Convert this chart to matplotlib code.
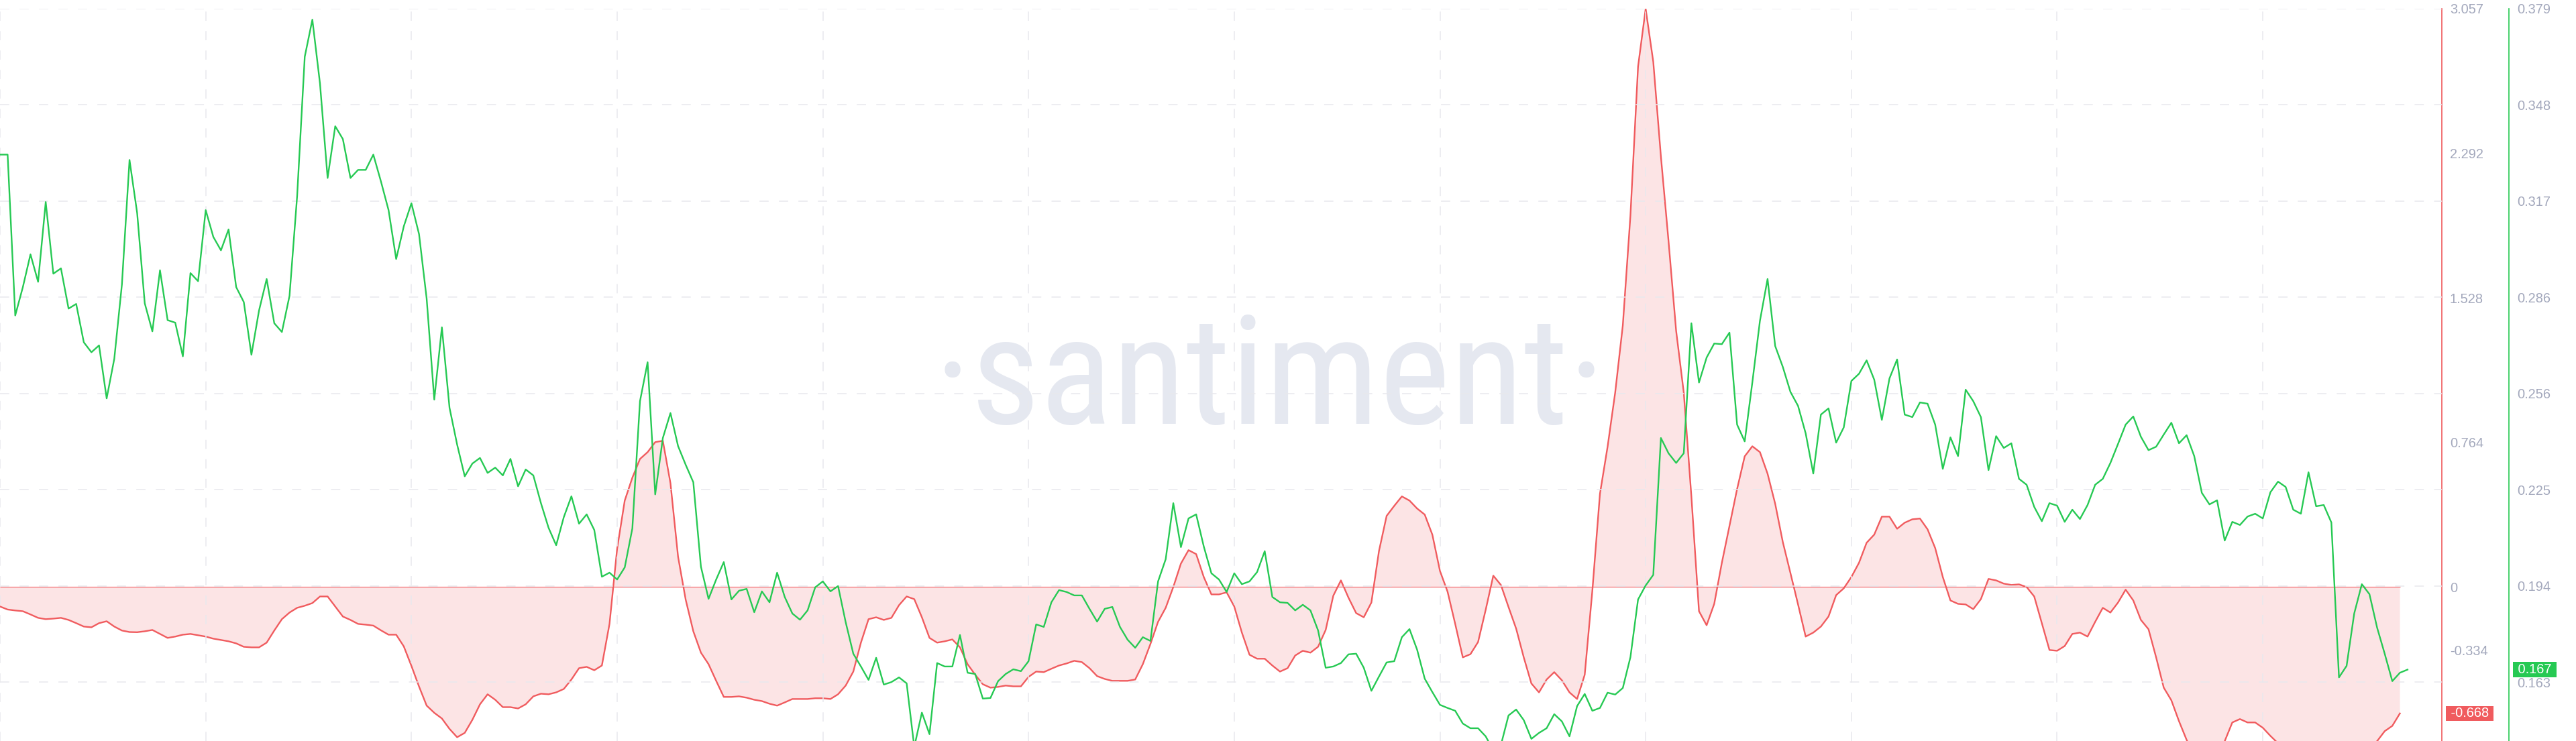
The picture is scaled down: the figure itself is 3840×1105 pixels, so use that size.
import numpy as np
import matplotlib
matplotlib.use("Agg")
import matplotlib.pyplot as plt
from matplotlib import font_manager

# daily values, green = price-like metric (right outer axis), red = smoothed oscillator (inner axis)
GREEN = [
    0.3322, 0.3322, 0.2806, 0.2897, 0.3002, 0.2914, 0.3170, 0.2940, 0.2957, 0.2828,
    0.2843, 0.2720, 0.2688, 0.2710, 0.2540, 0.2667, 0.2905, 0.3305, 0.3135, 0.2845,
    0.2755, 0.2951, 0.2791, 0.2783, 0.2675, 0.2942, 0.2916, 0.3144, 0.3058, 0.3015,
    0.3082, 0.2897, 0.2849, 0.2680, 0.2822, 0.2923, 0.2781, 0.2753, 0.2869, 0.3189,
    0.3636, 0.3755, 0.3550, 0.3247, 0.3413, 0.3372, 0.3247, 0.3273, 0.3273, 0.3322,
    0.3236, 0.3144, 0.2987, 0.3092, 0.3166, 0.3067, 0.2860, 0.2536, 0.2768, 0.2510,
    0.2392, 0.2290, 0.2331, 0.2349, 0.2301, 0.2318, 0.2293, 0.2346, 0.2258, 0.2312,
    0.2293, 0.2204, 0.2125, 0.2069, 0.2159, 0.2226, 0.2138, 0.2168, 0.2118, 0.1968,
    0.1981, 0.1959, 0.1998, 0.2123, 0.2531, 0.2656, 0.2232, 0.2413, 0.2493, 0.2387,
    0.2327, 0.2271, 0.2000, 0.1897, 0.1959, 0.2015, 0.1895, 0.1923, 0.1929, 0.1854,
    0.1921, 0.1886, 0.1981, 0.1903, 0.1850, 0.1830, 0.1860, 0.1934, 0.1953, 0.1921,
    0.1938, 0.1822, 0.1721, 0.1680, 0.1637, 0.1708, 0.1622, 0.1630, 0.1645, 0.1626,
    0.1422, 0.1532, 0.1463, 0.1691, 0.1680, 0.1680, 0.1781, 0.1660, 0.1656, 0.1577,
    0.1579, 0.1633, 0.1656, 0.1671, 0.1665, 0.1697, 0.1815, 0.1807, 0.1886, 0.1925,
    0.1919, 0.1908, 0.1908, 0.1865, 0.1824, 0.1865, 0.1871, 0.1807, 0.1766, 0.1740,
    0.1774, 0.1762, 0.1953, 0.2024, 0.2204, 0.2063, 0.2155, 0.2168, 0.2065, 0.1979,
    0.1959, 0.1919, 0.1979, 0.1944, 0.1953, 0.1983, 0.2050, 0.1903, 0.1886, 0.1884,
    0.1860, 0.1878, 0.1860, 0.1796, 0.1676, 0.1680, 0.1691, 0.1719, 0.1721, 0.1676,
    0.1602, 0.1648, 0.1693, 0.1697, 0.1774, 0.1800, 0.1734, 0.1641, 0.1598, 0.1557,
    0.1547, 0.1538, 0.1497, 0.1482, 0.1482, 0.1456, 0.1411, 0.1428, 0.1523, 0.1542,
    0.1508, 0.1448, 0.1467, 0.1482, 0.1527, 0.1504, 0.1456, 0.1553, 0.1592, 0.1538,
    0.1547, 0.1596, 0.1590, 0.1611, 0.1710, 0.1895, 0.1940, 0.1974, 0.2413, 0.2364,
    0.2333, 0.2364, 0.2781, 0.2591, 0.2671, 0.2716, 0.2714, 0.2751, 0.2456, 0.2402,
    0.2591, 0.2789, 0.2923, 0.2708, 0.2641, 0.2561, 0.2516, 0.2428, 0.2299, 0.2488,
    0.2508, 0.2398, 0.2447, 0.2596, 0.2619, 0.2662, 0.2600, 0.2471, 0.2604, 0.2665,
    0.2488, 0.2480, 0.2527, 0.2523, 0.2456, 0.2314, 0.2415, 0.2355, 0.2568, 0.2531,
    0.2480, 0.2310, 0.2419, 0.2381, 0.2396, 0.2282, 0.2263, 0.2192, 0.2146, 0.2204,
    0.2196, 0.2144, 0.2183, 0.2153, 0.2198, 0.2263, 0.2282, 0.2333, 0.2394, 0.2456,
    0.2482, 0.2417, 0.2374, 0.2385, 0.2424, 0.2462, 0.2396, 0.2422, 0.2355, 0.2237,
    0.2200, 0.2213, 0.2084, 0.2144, 0.2134, 0.2161, 0.2170, 0.2155, 0.2239, 0.2273,
    0.2256, 0.2183, 0.2170, 0.2303, 0.2194, 0.2198, 0.2142, 0.1645, 0.1682, 0.1850,
    0.1944, 0.1912, 0.1805, 0.1721, 0.1633, 0.1660, 0.1670,
]

RED = [
    -0.103, -0.119, -0.124, -0.128, -0.145, -0.163, -0.170, -0.167, -0.163, -0.174,
    -0.191, -0.209, -0.213, -0.191, -0.181, -0.209, -0.230, -0.238, -0.239, -0.234,
    -0.227, -0.248, -0.269, -0.262, -0.252, -0.248, -0.255, -0.262, -0.273, -0.280,
    -0.287, -0.298, -0.316, -0.319, -0.319, -0.294, -0.230, -0.170, -0.135, -0.110,
    -0.099, -0.085, -0.050, -0.050, -0.103, -0.156, -0.174, -0.195, -0.199, -0.204,
    -0.229, -0.252, -0.252, -0.314, -0.417, -0.526, -0.627, -0.665, -0.695, -0.750,
    -0.794, -0.771, -0.702, -0.620, -0.567, -0.596, -0.635, -0.635, -0.642, -0.620,
    -0.578, -0.564, -0.567, -0.557, -0.539, -0.489, -0.429, -0.422, -0.440, -0.415,
    -0.195, 0.202, 0.457, 0.578, 0.677, 0.713, 0.766, 0.773, 0.549, 0.160,
    -0.067, -0.234, -0.347, -0.408, -0.496, -0.581, -0.581, -0.578, -0.585, -0.596,
    -0.603, -0.617, -0.627, -0.610, -0.592, -0.592, -0.592, -0.588, -0.588, -0.592,
    -0.567, -0.521, -0.447, -0.294, -0.170, -0.160, -0.174, -0.163, -0.096, -0.050,
    -0.064, -0.160, -0.269, -0.294, -0.287, -0.277, -0.319, -0.408, -0.464, -0.514,
    -0.532, -0.528, -0.521, -0.525, -0.525, -0.475, -0.447, -0.450, -0.432, -0.415,
    -0.404, -0.390, -0.397, -0.429, -0.471, -0.486, -0.496, -0.496, -0.496, -0.489,
    -0.408, -0.301, -0.184, -0.110, 0.000, 0.124, 0.195, 0.174, 0.053, -0.039,
    -0.039, -0.028, -0.103, -0.241, -0.358, -0.379, -0.379, -0.415, -0.447, -0.429,
    -0.362, -0.337, -0.347, -0.316, -0.227, -0.046, 0.035, -0.057, -0.138, -0.160,
    -0.082, 0.191, 0.376, 0.429, 0.479, 0.457, 0.415, 0.383, 0.277, 0.085,
    -0.025, -0.195, -0.372, -0.355, -0.291, -0.121, 0.060, 0.011, -0.106, -0.220,
    -0.372, -0.510, -0.557, -0.489, -0.450, -0.493, -0.557, -0.592, -0.464, -0.021,
    0.493, 0.741, 1.028, 1.383, 1.964, 2.751, 3.057, 2.776, 2.276, 1.829,
    1.354, 1.028, 0.479, -0.128, -0.202, -0.089, 0.128, 0.323, 0.518, 0.691,
    0.744, 0.713, 0.599, 0.440, 0.238, 0.074, -0.092, -0.262, -0.241, -0.209,
    -0.156, -0.043, -0.007, 0.053, 0.128, 0.234, 0.277, 0.372, 0.372, 0.308,
    0.340, 0.358, 0.362, 0.305, 0.206, 0.053, -0.071, -0.089, -0.092, -0.117,
    -0.064, 0.043, 0.035, 0.018, 0.011, 0.014, 0.000, -0.050, -0.191, -0.333,
    -0.337, -0.312, -0.248, -0.241, -0.262, -0.184, -0.110, -0.135, -0.082, -0.014,
    -0.071, -0.174, -0.223, -0.372, -0.532, -0.599, -0.709, -0.808, -0.886, -0.939,
    -0.957, -0.904, -0.815, -0.716, -0.698, -0.716, -0.716, -0.744, -0.787, -0.826,
    -0.869, -0.911, -0.939, -0.957, -0.968, -0.975, -0.968, -0.957, -0.932, -0.904,
    -0.876, -0.844, -0.815, -0.762, -0.734, -0.668,
]

GREEN_TICK_LABELS = ["0.379", "0.348", "0.317", "0.286", "0.256", "0.225", "0.194", "0.163"]
RED_TICKS = [3.057, 2.292, 1.528, 0.764, 0, -0.334]
RED_TICK_LABELS = ["3.057", "2.292", "1.528", "0.764", "0", "-0.334"]

GREEN_COLOR = "#26c953"
RED_COLOR = "#f05b5e"
LABEL_COLOR = "#a3a8bc"
GRID_COLOR = "#e8e8ed"
WATERMARK_COLOR = "#e5e8f0"


def condensed_font():
    # the watermark is set in a narrow sans; take the first regular condensed face found
    prefs = ["opensans", "notosans", "roboto", "liberationsansnarrow", "archivonarrow", "asapcondensed"]
    for key in prefs:
        for f in font_manager.fontManager.ttflist:
            fn = f.fname.split("/")[-1].lower().replace("_", "").replace("-", "")
            if key not in fn or not ("condensed" in fn or "narrow" in fn):
                continue
            if any(k in fn for k in ("semi", "extra", "ultra", "mono", "italic", "bold", "light",
                                     "medium", "black", "thin", "[")):
                continue
            return font_manager.FontProperties(fname=f.fname)
    return font_manager.FontProperties(family="Liberation Sans")


plt.rcParams["font.family"] = ["Liberation Sans", "DejaVu Sans"]

W, H = 3840, 1105
fig = plt.figure(figsize=(W / 100, H / 100), dpi=100)
fig.patch.set_facecolor("white")
ax = fig.add_axes([0, 0, 3640 / W, 1092 / H])
ax2 = ax.twinx()
ax.set_zorder(2)
ax2.set_zorder(1)
ax.patch.set_visible(False)

x_green = np.arange(len(GREEN))
x_red = np.arange(len(RED))

# red oscillator with pink area to zero
ax2.fill_between(x_red, RED, 0, color=RED_COLOR, alpha=0.16, lw=0, zorder=1)
ax2.hlines(0, x_red[0], x_red[-1], color=RED_COLOR, lw=0.8, zorder=2)
ax2.plot(x_red, RED, color=RED_COLOR, lw=1.7, zorder=3)

ax.plot(x_green, GREEN, color=GREEN_COLOR, lw=1.7, zorder=3)

ax.set_xlim(0, 320.5)
ax.set_ylim(0.1441, 0.379)
ax2.set_ylim(-0.814, 3.057)

# grid follows the green scale
ax.set_xticks(np.arange(0, 321, 27))
ax.set_yticks(np.linspace(0.379, 0.163, len(GREEN_TICK_LABELS)), GREEN_TICK_LABELS)
ax.grid(True, color=GRID_COLOR, lw=1.1, ls=(0, (9, 10)))
ax.yaxis.tick_right()
ax.tick_params(axis="x", length=0, labelbottom=False)
ax.tick_params(axis="y", length=0, pad=8.6, labelsize=14.4, labelcolor=LABEL_COLOR)

ax2.set_yticks(RED_TICKS, RED_TICK_LABELS)
ax2.tick_params(axis="y", length=0, pad=8.6, labelsize=14.4, labelcolor=LABEL_COLOR)

for a in (ax, ax2):
    for side in ("top", "left", "bottom"):
        a.spines[side].set_visible(False)
ax.spines["right"].set_position(("outward", 72))
ax.spines["right"].set_color(GREEN_COLOR)
ax.spines["right"].set_linewidth(1.2)
ax2.spines["right"].set_color(RED_COLOR)
ax2.spines["right"].set_linewidth(1.2)

# last-value badges
ax2.text(1 + 8 / 3640, RED[-1], f" {RED[-1]:.3f} ", transform=ax2.get_yaxis_transform(),
         ha="left", va="center", color="white", fontsize=14.4, zorder=10,
         bbox=dict(boxstyle="square,pad=0.08", fc=RED_COLOR, ec="none"))
ax.text(1 + 108 / 3640, GREEN[-1], f" {GREEN[-1]:.3f} ", transform=ax.get_yaxis_transform(),
        ha="left", va="center", color="white", fontsize=14.4, zorder=10,
        bbox=dict(boxstyle="square,pad=0.08", fc=GREEN_COLOR, ec="none"))

# watermark, sized so it spans about 1000 px like the original
wm = ax2.text(1893 / W, 1 - 632 / H, "\u00b7santiment\u00b7", transform=fig.transFigure,
              ha="center", va="baseline", fontsize=170, color=WATERMARK_COLOR,
              fontproperties=condensed_font(), zorder=0)
wm.set_fontsize(170)
bb = wm.get_window_extent(fig.canvas.get_renderer())
wm.set_fontsize(170 * 1002 / bb.width)

fig.savefig("out.png", dpi=100, facecolor="white")
